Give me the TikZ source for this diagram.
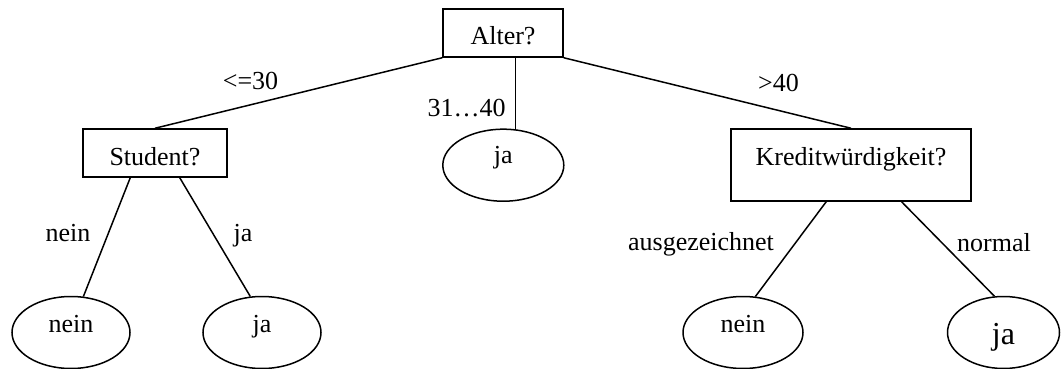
\documentclass[tikz,border=0pt]{standalone}
\usepackage{fontspec}
\setmainfont{Liberation Serif}
\usetikzlibrary{shapes.geometric}
\begin{document}
\begin{tikzpicture}[x=1pt,y=1pt,
  every node/.style={font=\fontsize{26}{30}\selectfont},
  box/.style={draw, line width=1.5pt, rectangle, inner sep=0pt},
  leaf/.style={draw, line width=1.5pt, ellipse, inner sep=0pt, minimum height=72pt, text height=10pt, text depth=10pt},
  edge/.style={line width=1.5pt},
  lbl/.style={anchor=base, inner sep=0pt}]
\useasboundingbox (0,0) rectangle (1061,-369);
% decision boxes
\node[box, minimum width=120pt, minimum height=48pt, text height=30pt, text depth=6pt] (al) at (503,-33) {Alter?};
\node[box, minimum width=144pt, minimum height=48pt, text height=30pt, text depth=6pt] (st) at (155,-153) {Student?};
\node[box, minimum width=240pt, minimum height=72pt, text height=10pt, text depth=10pt] (kr) at (851,-165) {Kreditwürdigkeit?};
% leaves
\node[leaf, minimum width=121pt, text height=6pt, text depth=10pt] (jm) at (503.3,-165.2) {ja};
\node[leaf, minimum width=118pt] (nl) at (71,-332.5) {nein};
\node[leaf, minimum width=118pt] (jl) at (262,-332.5) {ja};
\node[leaf, minimum width=120pt] (nr) at (743,-332.5) {nein};
\node[leaf, minimum width=112pt, text height=30pt, text depth=6pt, font=\fontsize{32}{36}\selectfont] (jr) at (1003.5,-332.5) {ja};
% connectors
\draw[edge] (al.south west) -- (st.north);
\draw[edge] (jm.71) -- (jm.71 |- al.south);
\draw[edge] (al.south east) -- (kr.north);
\draw[edge] (st.225) -- (nl.71);
\draw[edge] (st.315) -- (jl.108);
\draw[edge] (kr.236) -- (nr.71);
\draw[edge] (kr.-36) -- (jr.104);
% edge labels
\node[lbl] (l1) at (250.5,-90) {<=30};
\node[lbl] (l2) at (466.5,-117) {31…40};
\node[lbl] (l3) at (778.5,-92) {>40};
\node[lbl] (l4) at (68,-241.5) {nein};
\node[lbl] (l5) at (243,-241.5) {ja};
\node[lbl] (l6) at (701,-250) {ausgezeichnet};
\node[lbl] (l7) at (994,-251) {normal};
\end{tikzpicture}
\end{document}
